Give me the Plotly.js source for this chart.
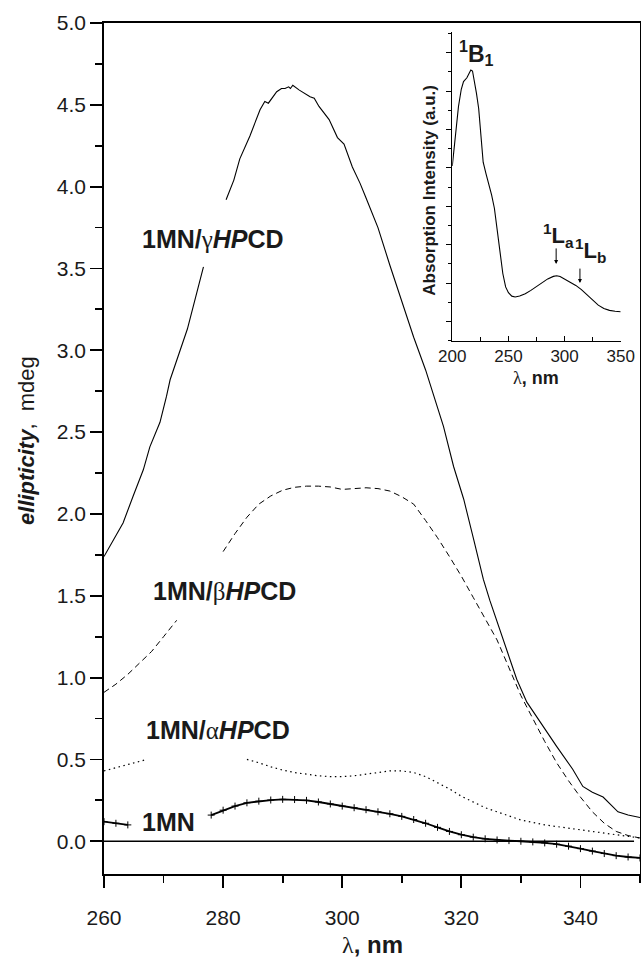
<!DOCTYPE html>
<html>
<head>
<meta charset="utf-8">
<script src="https://cdn.plot.ly/plotly-3.0.1.min.js"></script>
<style>html,body{margin:0;padding:0;background:#fff;}#chart{width:641px;height:967px;}</style>
</head>
<body>
<div id="chart"></div>
<script>
// ---------- data ----------
const baseX = [260, 349];
const baseY = [0, 0];

const gammaX = [260, 261.6, 263.2, 264.9, 266.6, 267.7, 269.4, 270.5, 271.1, 274, 276.7, 278.5, 280.5, 281.8, 282.8, 284.5, 286.2, 287, 287.6, 289, 289.8, 290.4, 291, 291.3, 291.7, 292.8, 294.6, 295.3, 296.1, 297.8, 299.2, 300.3, 301.7, 303, 303.9, 306, 308, 310, 312, 314, 315.6, 317, 318.7, 320.4, 322.1, 323.7, 324.8, 326.5, 327.8, 329.3, 331, 333.7, 336, 338.7, 340.4, 342, 343.8, 346.3, 348, 350];
const gammaY = [1.74, 1.84, 1.945, 2.11, 2.27, 2.41, 2.56, 2.72, 2.82, 3.13, 3.51, null, 3.92, 4.04, 4.17, 4.31, 4.47, 4.52, 4.51, 4.58, 4.60, 4.60, 4.61, 4.60, 4.62, 4.59, 4.55, 4.54, 4.49, 4.41, 4.30, 4.26, 4.12, 4.02, 3.94, 3.75, 3.52, 3.30, 3.08, 2.88, 2.70, 2.535, 2.29, 2.09, 1.84, 1.60, 1.47, 1.29, 1.15, 0.99, 0.85, 0.70, 0.58, 0.44, 0.335, 0.30, 0.27, 0.18, 0.16, 0.145];

const betaX = [260, 262, 264, 266, 268, 270, 272.2, 276, 280, 282, 284, 286, 288, 290, 292, 294, 296, 298, 300, 302, 304, 306, 308, 310, 312, 314, 316, 318, 320, 322, 324, 326, 328, 330, 332, 334, 336, 338, 340, 342, 344, 346, 348, 350];
const betaY = [0.91, 0.96, 1.02, 1.09, 1.16, 1.25, 1.35, null, 1.77, 1.88, 1.98, 2.06, 2.11, 2.145, 2.163, 2.17, 2.17, 2.165, 2.15, 2.155, 2.16, 2.155, 2.14, 2.105, 2.06, 1.96, 1.855, 1.74, 1.62, 1.49, 1.36, 1.23, 1.06, 0.89, 0.75, 0.61, 0.48, 0.37, 0.27, 0.18, 0.11, 0.06, 0.035, 0.02];

const alphaX = [260, 262, 264, 266, 267.2, 275, 284, 286, 288, 290, 292, 294, 296, 298, 300, 302, 304, 306, 308, 310, 312, 314, 316, 318, 320, 322, 324, 326, 328, 330, 332, 334, 336, 338, 340, 342, 344, 346, 348, 350];
const alphaY = [0.43, 0.45, 0.47, 0.49, 0.50, null, 0.50, 0.48, 0.455, 0.435, 0.42, 0.41, 0.40, 0.395, 0.395, 0.40, 0.41, 0.42, 0.43, 0.43, 0.42, 0.395, 0.36, 0.32, 0.275, 0.24, 0.205, 0.18, 0.155, 0.13, 0.115, 0.10, 0.09, 0.08, 0.07, 0.06, 0.05, 0.04, 0.03, 0.02];

const mnX = [260, 262, 264, 271, 278, 280, 282, 284, 286, 288, 290, 292, 294, 296, 298, 300, 302, 304, 306, 308, 310, 312, 314, 316, 318, 320, 322, 324, 326, 328, 330, 332, 334, 336, 338, 340, 342, 344, 346, 348, 350];
const mnY = [0.12, 0.11, 0.10, null, 0.16, 0.19, 0.215, 0.235, 0.245, 0.252, 0.256, 0.255, 0.25, 0.24, 0.228, 0.215, 0.205, 0.193, 0.18, 0.168, 0.152, 0.133, 0.11, 0.085, 0.06, 0.04, 0.025, 0.015, 0.008, 0.004, 0.0, -0.004, -0.01, -0.018, -0.03, -0.045, -0.06, -0.075, -0.088, -0.096, -0.102];

// inset absorption spectrum (arbitrary units)
const absX = [200, 203, 205.5, 208, 210, 213, 215, 216.5, 218, 219.5, 221.5, 223.5, 225.5, 227.5, 230, 232.5, 235, 237.5, 240, 242.5, 245, 247.5, 250, 253, 256, 260, 265, 270, 275, 280, 285, 290, 293, 296, 300, 305, 310, 315, 320, 325, 330, 335, 340, 345, 350];
const absY = [9.1, 11.0, 12.2, 13.1, 13.5, 13.7, 13.95, 14.1, 14.05, 13.6, 12.9, 12.1, 10.8, 9.3, 8.7, 8.2, 7.6, 6.9, 5.8, 4.7, 3.5, 2.8, 2.5, 2.32, 2.28, 2.33, 2.45, 2.62, 2.82, 3.03, 3.22, 3.35, 3.38, 3.34, 3.22, 3.05, 2.88, 2.66, 2.38, 2.1, 1.85, 1.68, 1.58, 1.53, 1.51];

const xTickVals = [260, 280, 300, 320, 340];
const yTickVals = [0.0, 0.5, 1.0, 1.5, 2.0, 2.5, 3.0, 3.5, 4.0, 4.5, 5.0];
const insetXTicks = [200, 250, 300, 350];

// ---------- styling ----------
const SANS = 'Liberation Sans, Arial, Helvetica, sans-serif';
const SERIF = 'Liberation Serif, Times New Roman, serif';
const TXT = '#1a1a1a';
const g = (c) => '<span style="font-family:' + SERIF + ';font-weight:normal">' + c + '</span>';

const traces = [
  {x: baseX, y: baseY, mode: 'lines', line: {color: '#000', width: 1.6}},
  {x: gammaX, y: gammaY, mode: 'lines', line: {color: '#000', width: 1.1}},
  {x: betaX, y: betaY, mode: 'lines', line: {color: '#000', width: 1.0, dash: '6px,4px'}},
  {x: alphaX, y: alphaY, mode: 'lines', line: {color: '#000', width: 1.2, dash: '1.5px,3.5px'}},
  {x: mnX, y: mnY, mode: 'lines+markers', line: {color: '#000', width: 1.8},
   marker: {symbol: 'cross-thin', size: 5, line: {color: '#000', width: 1}}},
  {x: absX, y: absY, xaxis: 'x2', yaxis: 'y2', mode: 'lines', line: {color: '#000', width: 1.1}}
];

const ann = (o) => Object.assign({xanchor: 'center', yanchor: 'middle', showarrow: false}, o);

const layout = {
  width: 641, height: 967,
  margin: {l: 104, r: 1, t: 23, b: 93},
  paper_bgcolor: '#fff', plot_bgcolor: 'rgba(0,0,0,0)',
  showlegend: false,
  font: {family: SANS, color: TXT},
  xaxis: {
    domain: [0, 1], range: [260, 350], tickvals: xTickVals,
    ticks: 'outside', ticklen: 12, tickwidth: 1.8, tickcolor: '#000',
    ticklabelstandoff: 12,
    minor: {dtick: 10, tick0: 260, ticks: 'outside', ticklen: 7, tickwidth: 1.8, tickcolor: '#000'},
    showline: true, linewidth: 1.8, linecolor: '#000', mirror: true,
    showgrid: false, zeroline: false,
    tickfont: {size: 21, family: SANS, color: TXT}
  },
  yaxis: {
    domain: [0, 1], range: [-0.2, 5.0], tickvals: yTickVals, tickformat: '.1f',
    ticks: 'outside', ticklen: 12, tickwidth: 1.8, tickcolor: '#000',
    minor: {dtick: 0.25, tick0: 0, ticks: 'outside', ticklen: 7, tickwidth: 1.8, tickcolor: '#000'},
    showline: true, linewidth: 1.8, linecolor: '#000', mirror: true,
    showgrid: false, zeroline: false,
    tickfont: {size: 21, family: SANS, color: TXT}
  },
  xaxis2: {
    domain: [0.6498, 0.964], anchor: 'y2', range: [200, 350], tickvals: insetXTicks,
    ticks: 'inside', ticklen: 5, tickwidth: 1, tickcolor: '#000',
    minor: {dtick: 25, tick0: 200, ticks: 'inside', ticklen: 4, tickwidth: 1, tickcolor: '#000'},
    showline: true, linewidth: 1.2, linecolor: '#000', mirror: false,
    showgrid: false, zeroline: false,
    tickfont: {size: 17, family: SANS, color: TXT}
  },
  yaxis2: {
    domain: [0.6267, 0.9898], anchor: 'x2', range: [0, 16.1],
    tickvals: [1, 3, 5, 7, 9, 11, 13, 15], showticklabels: false,
    ticks: 'outside', ticklen: 5, tickwidth: 1, tickcolor: '#000',
    minor: {dtick: 2, tick0: 0, ticks: 'outside', ticklen: 3, tickwidth: 1, tickcolor: '#000'},
    showline: true, linewidth: 1.2, linecolor: '#000',
    showgrid: false, zeroline: false
  },
  annotations: [
    ann({xref: 'x', yref: 'y', x: 278.3, y: 3.68,
     text: '<b>1MN/</b>' + g('γ') + '<b><i>HP</i>CD</b>', font: {size: 25, family: SANS, color: TXT}}),
    ann({xref: 'x', yref: 'y', x: 280.3, y: 1.53,
     text: '<b>1MN/</b>' + g('β') + '<b><i>HP</i>CD</b>', font: {size: 25, family: SANS, color: TXT}}),
    ann({xref: 'x', yref: 'y', x: 279.2, y: 0.677,
     text: '<b>1MN/</b>' + g('α') + '<b><i>HP</i>CD</b>', font: {size: 25, family: SANS, color: TXT}}),
    ann({xref: 'x', yref: 'y', x: 270.9, y: 0.115,
     text: '<b>1MN</b>', font: {size: 25, family: SANS, color: TXT}}),
    ann({xref: 'paper', yref: 'paper', x: -0.1437, y: 0.51, textangle: -90,
     text: '<b><i>ellipticity</i></b>,  mdeg', font: {size: 22, family: SANS, color: TXT}}),
    ann({xref: 'paper', yref: 'paper', x: 0.5, y: -0.0834,
     text: g('λ') + '<b>, nm</b>', font: {size: 24, family: SANS, color: TXT}}),
    // inset texts
    ann({xref: 'x2', yref: 'y2', x: 222, y: 15.0,
     text: '<b><sup>1</sup>B<sub>1</sub></b>', font: {size: 23, family: SANS, color: TXT}}),
    ann({xref: 'x2', yref: 'y2', x: 294.5, y: 5.5,
     text: '<b><sup>1</sup>L<sub>a</sub></b>', font: {size: 22, family: SANS, color: TXT}}),
    ann({xref: 'x2', yref: 'y2', x: 323.5, y: 4.7,
     text: '<b><sup>1</sup>L<sub>b</sub></b>', font: {size: 22, family: SANS, color: TXT}}),
    {xref: 'x2', yref: 'y2', x: 292.5, y: 4.0, showarrow: true, ax: 0, ay: -17, text: '',
     arrowhead: 2, arrowsize: 0.8, arrowwidth: 1, arrowcolor: '#000'},
    {xref: 'x2', yref: 'y2', x: 313.7, y: 3.0, showarrow: true, ax: 0, ay: -16, text: '',
     arrowhead: 2, arrowsize: 0.8, arrowwidth: 1, arrowcolor: '#000'},
    ann({xref: 'paper', yref: 'paper', x: 0.806, y: 0.583,
     text: g('λ') + '<b>, nm</b>', font: {size: 18, family: SANS, color: TXT}}),
    ann({xref: 'paper', yref: 'paper', x: 0.608, y: 0.804, textangle: -90,
     text: '<b>Absorption Intensity (a.u.)</b>', font: {size: 17, family: SANS, color: TXT}})
  ]
};

Plotly.newPlot('chart', traces, layout, {displayModeBar: false, staticPlot: true});
</script>
</body>
</html>
